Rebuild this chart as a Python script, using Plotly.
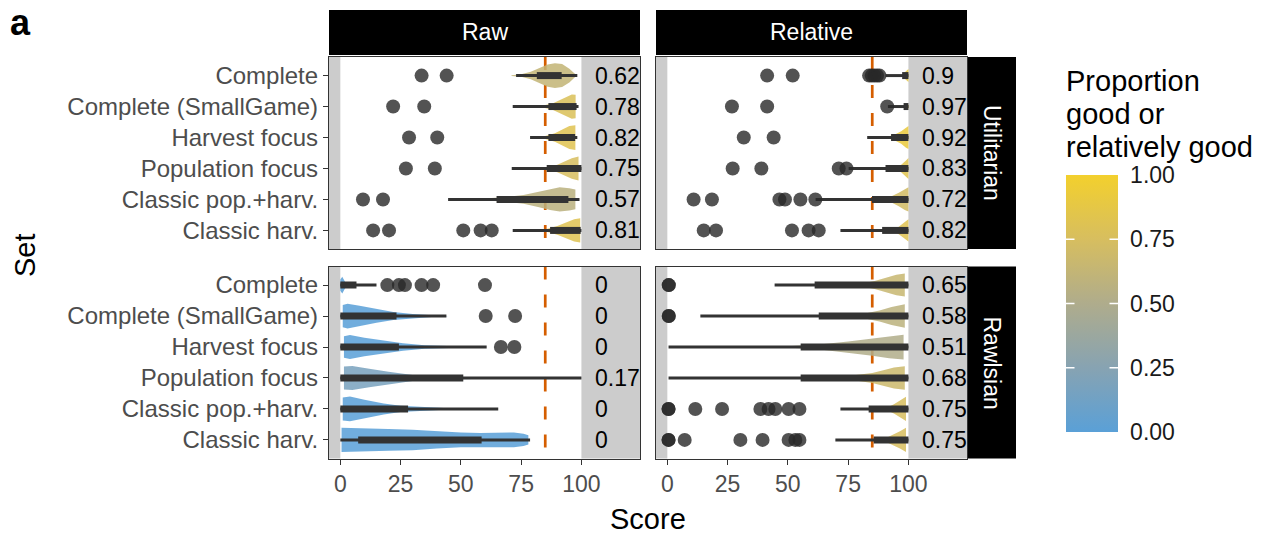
import plotly.graph_objects as go

W, H = 1272, 535
FONT = "Liberation Sans, Arial, sans-serif"

# ---------------- data ----------------
SETS = ["Complete", "Complete (SmallGame)", "Harvest focus", "Population focus",
        "Classic pop.+harv.", "Classic harv."]
COLS = ["Raw", "Relative"]
ROWS = ["Utilitarian", "Rawlsian"]
THRESHOLD = 85
X_TICKS = [0, 25, 50, 75, 100]
CB_TICKS = [0, 0.25, 0.5, 0.75, 1.0]

# proportion good (label + violin colour), order of SETS
prop_raw_util = [0.62, 0.78, 0.82, 0.75, 0.57, 0.81]
prop_rel_util = [0.9, 0.97, 0.92, 0.83, 0.72, 0.82]
prop_raw_rawl = [0, 0, 0, 0.17, 0, 0]
prop_rel_rawl = [0.65, 0.58, 0.51, 0.68, 0.75, 0.75]

# box summaries: [whisker low, q1, q3, whisker high]
box_raw_util = [[72.9, 81.5, 91.8, 98.3], [71.5, 86.3, 98.0, 98.8], [78.7, 86.3, 97.4, 98.3],
                [71.1, 85.6, 100, 100], [44.7, 64.8, 94.6, 99.2], [71.5, 87.0, 99.7, 100]]
box_rel_util = [[90.5, 97.4, 100, 100], [91.5, 98.0, 100, 100], [82.9, 92.8, 100, 100],
                [75.2, 90.5, 100, 100], [61.5, 84.9, 100, 100], [71.8, 89.1, 100, 100]]
box_raw_rawl = [[0, 0, 6.7, 15.0], [0, 0, 23.3, 44.0], [0, 0, 24.3, 60.7],
                [0, 0, 51.0, 100], [0, 0, 28.1, 65.5], [0, 7.4, 58.6, 78.7]]
box_rel_rawl = [[44.5, 61.1, 100, 100], [13.7, 62.8, 100, 100], [0.5, 55.3, 100, 100],
                [0.5, 55.3, 100, 100], [71.8, 83.5, 100, 100], [69.7, 85.6, 100, 100]]

# outliers
out_raw_util = [[33.7, 44.1], [21.9, 34.8], [28.5, 40.2], [27.2, 39.2], [9.4, 17.7],
                [13.6, 20.2, 51.0, 58.2, 62.8]]
out_rel_util = [[41.4, 52.0, 83.7, 84.8, 85.9, 87.0, 88.0], [26.8, 41.4, 91.2], [31.7, 44.1],
                [27.1, 39.0, 71.1, 74.3], [10.9, 18.5, 46.5, 48.8, 55.2, 61.4],
                [15.1, 20.2, 51.7, 58.6, 62.8]]
out_raw_rawl = [[19.5, 24.3, 26.8, 33.7, 38.5, 60.0], [60.3, 72.5], [66.6, 72.2], [], [], []]
out_rel_rawl = [[0.6, 0.6], [0.6, 0.6], [], [],
                [0.5, 0.5, 11.6, 22.7, 38.6, 42.0, 44.8, 50.3, 54.8],
                [0.5, 0.5, 7.2, 30.3, 39.5, 50.3, 53.1, 54.8]]

# violin profiles: (score values, half-width in category units)
vio_raw_util = [
    ([71, 75, 79, 83, 86, 89, 92, 95, 97.5], [0.01, 0.04, 0.12, 0.26, 0.36, 0.40, 0.37, 0.22, 0.04]),
    ([80, 84, 88, 91, 94, 96, 97.6], [0, 0.03, 0.10, 0.20, 0.32, 0.39, 0.38]),
    ([81.5, 85, 89, 92, 95, 97.5], [0, 0.05, 0.14, 0.25, 0.37, 0.40]),
    ([82, 86, 90, 93, 96, 98.8], [0, 0.04, 0.12, 0.22, 0.33, 0.39]),
    ([52, 60, 68, 76, 82, 87, 91, 95, 97.5], [0, 0.03, 0.07, 0.14, 0.24, 0.34, 0.39, 0.36, 0.32]),
    ([82, 86, 90, 94, 97, 99.5], [0, 0.05, 0.14, 0.26, 0.36, 0.39]),
]
vio_rel_util = [
    ([97, 98.5, 100], [0, 0.10, 0.21]),
    ([98.8, 100], [0, 0.06]),
    ([89.8, 94, 97, 99, 100], [0, 0.08, 0.20, 0.33, 0.37]),
    ([94, 97, 99, 100], [0, 0.12, 0.26, 0.34]),
    ([89, 93, 96, 98.5, 100], [0, 0.10, 0.22, 0.34, 0.39]),
    ([93, 96, 98.5, 100], [0, 0.12, 0.27, 0.36]),
]
vio_raw_rawl = [
    ([0, 0.8, 2, 3.5, 5], [0.18, 0.27, 0.10, 0.03, 0.01]),
    ([1, 3, 8, 15, 22, 30, 38, 44.7], [0.36, 0.40, 0.33, 0.22, 0.13, 0.07, 0.03, 0.01]),
    ([1.5, 4, 10, 18, 26, 35, 45, 55, 60], [0.35, 0.39, 0.30, 0.20, 0.12, 0.06, 0.03, 0.01, 0.005]),
    ([1.5, 5, 12, 20, 30, 40, 55, 75, 100], [0.37, 0.39, 0.30, 0.20, 0.10, 0.05, 0.02, 0.01, 0.005]),
    ([1, 4, 10, 18, 25, 35, 45, 60], [0.37, 0.40, 0.30, 0.18, 0.10, 0.05, 0.02, 0.005]),
    ([0.5, 10, 20, 30, 40, 50, 58, 65, 72, 76, 78], [0.39, 0.38, 0.35, 0.33, 0.28, 0.24, 0.22, 0.24, 0.24, 0.20, 0.15]),
]
vio_rel_rawl = [
    ([72, 80, 86, 91, 95, 98.5], [0, 0.04, 0.13, 0.25, 0.33, 0.37]),
    ([75, 82, 88, 93, 98.5], [0, 0.08, 0.18, 0.29, 0.38]),
    ([45, 55, 65, 75, 85, 92, 98], [0, 0.04, 0.10, 0.18, 0.28, 0.36, 0.40]),
    ([68, 78, 85, 90, 94, 98.5], [0, 0.08, 0.16, 0.26, 0.34, 0.38]),
    ([90, 94, 97, 99], [0, 0.15, 0.30, 0.39]),
    ([89, 93, 96.5, 99], [0, 0.14, 0.28, 0.39]),
]

# ---------------- style ----------------
COLORSCALE = [[0.0, "#5AA0D7"], [0.25, "#87A3B2"], [0.5, "#AFAC8C"], [0.75, "#D7BE5F"], [1.0, "#F3D02D"]]
BOX_COL = "#333333"
PT_COL = "rgba(40,40,40,0.8)"
GREY = "#CCCCCC"
DASH_COL = "#D55E00"
TICK_COL = "#4D4D4D"


def scale_color(v, alpha):
    for (a, ca), (b, cb) in zip(COLORSCALE[:-1], COLORSCALE[1:]):
        if a <= v <= b:
            t = (v - a) / (b - a) if b > a else 0
            c1 = [int(ca[i:i + 2], 16) for i in (1, 3, 5)]
            c2 = [int(cb[i:i + 2], 16) for i in (1, 3, 5)]
            c = [round(c1[k] + t * (c2[k] - c1[k])) for k in range(3)]
            return f"rgba({c[0]},{c[1]},{c[2]},{alpha})"
    return COLORSCALE[-1][1]


XDOM = {"Raw": (329, 640), "Relative": (656, 967)}
YDOM = {"Utilitarian": (57, 249), "Rawlsian": (266.5, 458.5)}
XRANGE = [-4.7, 124.3]
YRANGE = [0.4, 6.6]

panels = [
    ("Raw", "Utilitarian", prop_raw_util, box_raw_util, out_raw_util, vio_raw_util),
    ("Relative", "Utilitarian", prop_rel_util, box_rel_util, out_rel_util, vio_rel_util),
    ("Raw", "Rawlsian", prop_raw_rawl, box_raw_rawl, out_raw_rawl, vio_raw_rawl),
    ("Relative", "Rawlsian", prop_rel_rawl, box_rel_rawl, out_rel_rawl, vio_rel_rawl),
]

fig = go.Figure()
layout = dict(width=W, height=H, margin=dict(l=0, r=0, t=0, b=0), autosize=False,
              paper_bgcolor="white", plot_bgcolor="white", showlegend=False,
              font=dict(family=FONT, color="black"))
shapes, annotations = [], []


def paper_text(x, y, text, size, color="black", xanchor="center", yanchor="middle", angle=0):
    annotations.append(dict(x=x / W, y=1 - y / H, xref="paper", yref="paper", text=text,
                            showarrow=False, xanchor=xanchor, yanchor=yanchor, textangle=angle,
                            font=dict(size=size, color=color)))


for k, (col, row, props, boxes, outs, vios) in enumerate(panels):
    n = "" if k == 0 else str(k + 1)
    xa, ya = "x" + n, "y" + n
    x0, x1 = XDOM[col]
    y0, y1 = YDOM[row]
    bottom = row == "Rawlsian"
    left = col == "Raw"
    layout["xaxis" + n] = dict(domain=[x0 / W, x1 / W], anchor=ya, range=XRANGE, showgrid=False,
                               zeroline=False, showline=True, mirror=True, linecolor="#333333",
                               linewidth=1.2, tickvals=X_TICKS, showticklabels=bottom,
                               ticks="outside" if bottom else "", ticklen=5, tickwidth=1.2,
                               tickcolor="#333333", tickfont=dict(size=23, color=TICK_COL))
    layout["yaxis" + n] = dict(domain=[1 - y1 / H, 1 - y0 / H], anchor=xa, range=YRANGE,
                               showgrid=False, zeroline=False, showline=True, mirror=True,
                               linecolor="#333333", linewidth=1.2,
                               tickvals=[6 - i for i in range(len(SETS))], ticktext=SETS,
                               showticklabels=left, ticks="outside" if left else "", ticklen=5,
                               tickwidth=1.2, tickcolor="#333333",
                               tickfont=dict(size=24, color=TICK_COL))
    # grey side bands
    for bx0, bx1 in ((XRANGE[0], 0), (100, XRANGE[1])):
        shapes.append(dict(type="rect", xref=xa, yref=ya + " domain", x0=bx0, x1=bx1, y0=0, y1=1,
                           fillcolor=GREY, line=dict(width=0), layer="below"))
    # threshold (dashes start at the top of the panel)
    shapes.append(dict(type="line", xref=xa, yref=ya + " domain", x0=THRESHOLD, x1=THRESHOLD,
                       y0=1, y1=0, line=dict(color=DASH_COL, width=2.7, dash="13px,15px"),
                       layer="below"))
    for i, s in enumerate(SETS):
        c = 6 - i
        vx, vw = vios[i]
        px = list(vx) + list(vx[::-1])
        py = [c + w for w in vw] + [c - w for w in vw[::-1]]
        fig.add_trace(go.Scatter(x=px, y=py, xaxis=xa, yaxis=ya, mode="lines", fill="toself",
                                 fillcolor=scale_color(props[i], 0.86), line=dict(width=0),
                                 hoverinfo="skip"))
        wl, q1, q3, wh = boxes[i]
        fig.add_trace(go.Scatter(x=[wl, wh], y=[c, c], xaxis=xa, yaxis=ya, mode="lines",
                                 line=dict(color=BOX_COL, width=3), hoverinfo="skip"))
        fig.add_trace(go.Scatter(x=[q1, q3], y=[c, c], xaxis=xa, yaxis=ya, mode="lines",
                                 line=dict(color=BOX_COL, width=7), hoverinfo="skip"))
        if outs[i]:
            fig.add_trace(go.Scatter(x=outs[i], y=[c] * len(outs[i]), xaxis=xa, yaxis=ya,
                                     mode="markers", marker=dict(size=14, color=PT_COL,
                                                                 line=dict(width=0)),
                                     hoverinfo="skip"))
        annotations.append(dict(x=105, y=c, xref=xa, yref=ya, text=f"{props[i]:g}",
                                showarrow=False, xanchor="left", yanchor="middle",
                                font=dict(size=23, color="black")))

# strips
for col in COLS:
    x0, x1 = XDOM[col]
    shapes.append(dict(type="rect", xref="paper", yref="paper", x0=x0 / W, x1=x1 / W,
                       y0=1 - 55 / H, y1=1 - 10 / H, fillcolor="black", line=dict(width=0)))
    paper_text((x0 + x1) / 2, 32.5, col, 23, "white")
for row in ROWS:
    y0, y1 = YDOM[row]
    shapes.append(dict(type="rect", xref="paper", yref="paper", x0=968 / W, x1=1016 / W,
                       y0=1 - y1 / H, y1=1 - y0 / H, fillcolor="black", line=dict(width=0)))
    paper_text(992, (y0 + y1) / 2, row, 23, "white", angle=90)

# titles
paper_text(648, 519, "Score", 29)
paper_text(25, 255, "Set", 29, angle=-90)
paper_text(8, 22, "<b>a</b>", 36, xanchor="left")

# legend title
for txt, yc in (("Proportion", 81), ("good or", 114), ("relatively good", 147)):
    paper_text(1064, yc, txt, 29, xanchor="left")

CB_TOP, CB_BOT, CB_L, CB_R = 175, 432, 1066, 1118
fig.add_trace(go.Scatter(x=[None], y=[None], mode="markers", hoverinfo="skip",
                         marker=dict(color=[0], cmin=0, cmax=1, colorscale=COLORSCALE,
                                     showscale=True,
                                     colorbar=dict(x=CB_L / W, xanchor="left", xpad=0,
                                                   y=1 - (CB_TOP + CB_BOT) / 2 / H,
                                                   yanchor="middle", ypad=0,
                                                   len=CB_BOT - CB_TOP, lenmode="pixels",
                                                   thickness=CB_R - CB_L,
                                                   thicknessmode="pixels", outlinewidth=0,
                                                   tickvals=CB_TICKS,
                                                   ticktext=[f"{v:.2f}" for v in CB_TICKS],
                                                   ticks="outside", ticklen=8,
                                                   tickcolor="rgba(0,0,0,0)",
                                                   tickfont=dict(size=23, color="#1a1a1a")))))
for v in CB_TICKS[1:-1]:
    yp = 1 - (CB_BOT - v * (CB_BOT - CB_TOP)) / H
    annotations.append(dict(x=CB_L / W, y=yp, xref="paper", yref="paper", text="",
                            showarrow=True, arrowhead=0, arrowwidth=1.5, arrowcolor="white",
                            ax=10, ay=0, standoff=0))
    annotations.append(dict(x=CB_R / W, y=yp, xref="paper", yref="paper", text="",
                            showarrow=True, arrowhead=0, arrowwidth=1.5, arrowcolor="white",
                            ax=-10, ay=0, standoff=0))

layout["shapes"] = shapes
layout["annotations"] = annotations
fig.update_layout(**layout)
fig.write_html("out.html")
